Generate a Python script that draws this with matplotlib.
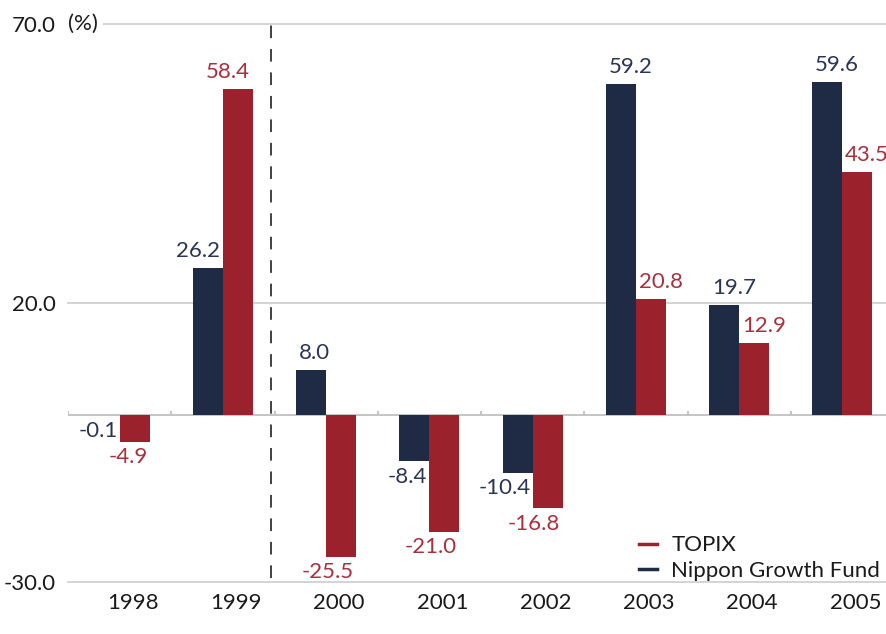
import numpy as np
import matplotlib.pyplot as plt
import matplotlib.transforms as mtransforms
from matplotlib.lines import Line2D

plt.rcParams['font.family'] = ['Lato', 'DejaVu Sans']

# data
years = ['1998', '1999', '2000', '2001', '2002', '2003', '2004', '2005']
fund = [-0.1, 26.2, 8.0, -8.4, -10.4, 59.2, 19.7, 59.6]
topix = [-4.9, 58.4, -25.5, -21.0, -16.8, 20.8, 12.9, 43.5]
yticks = [-30, 20, 70]

navy = '#1f2a44'
red = '#9b212d'
navy_txt = '#2b3553'
red_txt = '#a8303c'
grid_c = '#cccccc'
fs = 16

fig = plt.figure(figsize=(8.86, 6.34), dpi=100)
ax = fig.add_axes([68 / 886, 1 - 582 / 634, 826 / 886, 558 / 634])

x = np.arange(len(years))
w = 0.29
b1 = ax.bar(x - w / 2, fund, w, color=navy, zorder=3)
b2 = ax.bar(x + w / 2, topix, w, color=red, zorder=3)

ax.set_xlim(-0.5, len(years) - 0.5)
ax.set_ylim(-30, 70)

# grid lines and zero line with small ticks at category boundaries
for yv in yticks:
    ax.axhline(yv, color=grid_c, lw=1.2, zorder=1, clip_on=False)
ax.axhline(0, color='#bbbbbb', lw=1.2, zorder=2)
ax.vlines(np.arange(len(years)) - 0.5, 0, 0.7, color='#bbbbbb', lw=1.2, zorder=2)

# dashed separator between 1999 and 2000
ax.vlines(1.47, -29.2, 70, color='#333333', lw=1.3, linestyles=(0, (7, 6)), zorder=4)

# value labels: positives start at bar left edge, negatives end at bar right edge
def label_bars(bars, vals, col):
    for yr, r, v in zip(years, bars, vals):
        left = r.get_x()
        right = left + r.get_width()
        if v >= 0:
            if yr == '1999':
                ax.annotate(f'{v:.1f}', (right, v), xytext=(-2, 5), textcoords='offset points',
                            ha='right', va='bottom', color=col, fontsize=fs)
            else:
                ax.annotate(f'{v:.1f}', (left, v), xytext=(2, 5), textcoords='offset points',
                            ha='left', va='bottom', color=col, fontsize=fs)
        else:
            ax.annotate(f'{v:.1f}', (right, v), xytext=(-1.5, -4), textcoords='offset points',
                        ha='right', va='top', color=col, fontsize=fs)

label_bars(b1, fund, navy_txt)
label_bars(b2, topix, red_txt)

# axes styling
for s in ax.spines.values():
    s.set_visible(False)
ax.set_yticks(yticks)
ax.set_yticklabels([f'{v:.1f}' for v in yticks])
ax.tick_params(axis='y', length=0, pad=9, labelsize=fs, labelcolor='#1a1a1a')
ax.set_xticks(x)
ax.set_xticklabels(years)
ax.tick_params(axis='x', length=0, pad=8, labelsize=fs, labelcolor='#1a1a1a')
off = mtransforms.ScaledTranslation(0.13, 0, fig.dpi_scale_trans)
for lab in ax.get_xticklabels():
    lab.set_transform(lab.get_transform() + off)

ax.text(0, 70, '(%)', transform=ax.get_yaxis_transform(), ha='left', va='center',
        fontsize=fs, color='#1a1a1a', zorder=5,
        bbox=dict(facecolor='white', edgecolor='none', pad=3.5))

handles = [Line2D([0], [0], color=red, lw=2.5), Line2D([0], [0], color=navy, lw=2.5)]
leg = fig.legend(handles, ['TOPIX', 'Nippon Growth Fund'], loc='lower right',
                 bbox_to_anchor=(880 / 886, 1 - 581 / 634), frameon=False, fontsize=fs,
                 handlelength=0.8, handletextpad=0.65, labelspacing=0.25,
                 borderpad=0, borderaxespad=0, alignment='right')
for t in leg.get_texts():
    t.set_color('#1a1a1a')
leg._legend_box.align = 'right'

fig.savefig('out.png', dpi=100)
